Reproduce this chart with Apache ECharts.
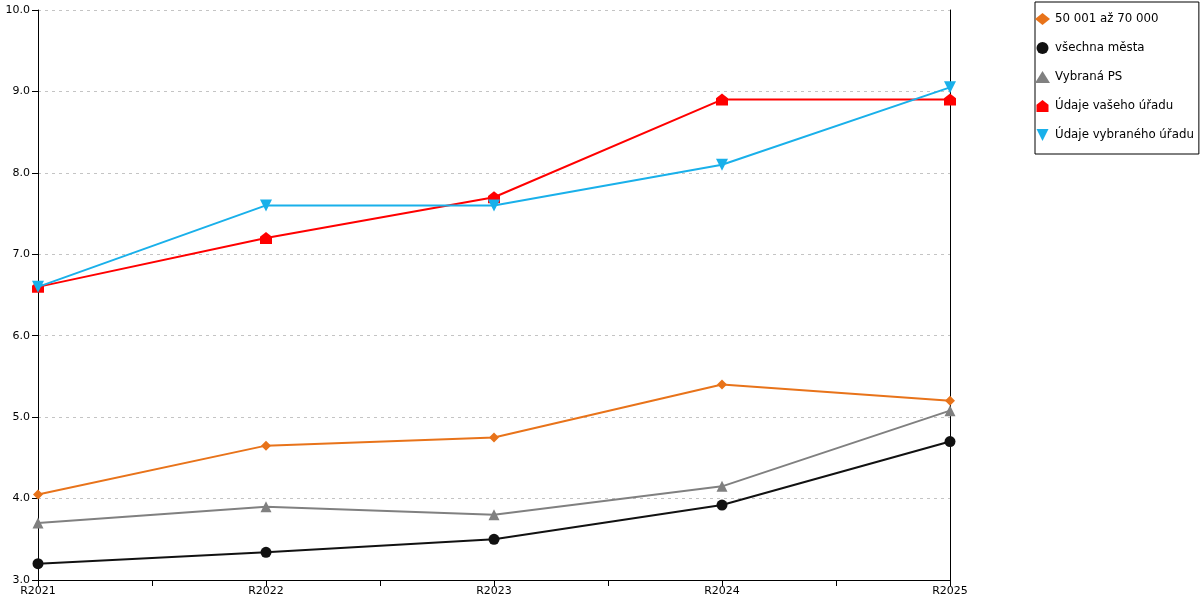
<!DOCTYPE html>
<html>
<head>
<meta charset="utf-8">
<script src="https://cdn.jsdelivr.net/npm/echarts@6/dist/echarts.min.js"></script>
<style>html,body{margin:0;padding:0;background:#fff;}#c{width:1200px;height:600px;}</style>
</head>
<body>
<div id="c"></div>
<script>
const categories = ['R2021', 'R2022', 'R2023', 'R2024', 'R2025'];
const seriesNames = ['50 001 až 70 000', 'všechna města', 'Vybraná PS', 'Údaje vašeho úřadu', 'Údaje vybraného úřadu'];
const vals5070 = [4.05, 4.65, 4.75, 5.4, 5.2];
const valsAll = [3.2, 3.34, 3.5, 3.92, 4.7];
const valsPS = [3.7, 3.9, 3.8, 4.15, 5.08];
const valsYour = [6.6, 7.2, 7.7, 8.9, 8.9];
const valsSel = [6.6, 7.6, 7.6, 8.1, 9.05];
const yTicks = [3, 4, 5, 6, 7, 8, 9, 10];

const house = 'path://M5,0 L10,4 L10,10 L0,10 L0,4 Z';
const styles = [
  {color: '#e8731a', symbol: 'diamond', size: 10},
  {color: '#111111', symbol: 'circle', size: 11},
  {color: '#808080', symbol: 'triangle', size: 11},
  {color: '#ff0000', symbol: house, size: 12},
  {color: '#19b0ea', symbol: 'path://M0,0 L10,0 L5,10 Z', size: 12}
];
const allVals = [vals5070, valsAll, valsPS, valsYour, valsSel];

const chart = echarts.init(document.getElementById('c'));
chart.setOption({
  animation: false,
  textStyle: {fontFamily: 'DejaVu Sans'},
  grid: {left: 38, right: 250, top: 10, bottom: 20},
  legend: {
    orient: 'vertical', left: 1035, top: 2,
    borderColor: '#000', borderWidth: 1,
    padding: [11, 5, 13, 0], itemGap: 17, itemWidth: 15, itemHeight: 12,
    textStyle: {fontSize: 11.8, color: '#000', fontFamily: 'DejaVu Sans'},
    data: seriesNames.map((n, i) => ({name: n, icon: styles[i].symbol}))
  },
  xAxis: {
    type: 'value', min: 0, max: categories.length - 1, interval: 0.5,
    axisLine: {lineStyle: {color: '#000', width: 1}},
    axisTick: {length: 6, lineStyle: {color: '#000'}},
    axisLabel: {color: '#000', fontSize: 11, margin: 6,
      formatter: v => Number.isInteger(v) ? categories[v] : ''},
    splitLine: {show: false}
  },
  yAxis: [{
    type: 'value', min: yTicks[0], max: yTicks[yTicks.length - 1], interval: 1,
    axisLine: {show: true, lineStyle: {color: '#000', width: 1}},
    axisTick: {show: true, length: 6, lineStyle: {color: '#000'}},
    axisLabel: {color: '#000', fontSize: 11, margin: 8, formatter: v => v.toFixed(1)},
    splitLine: {lineStyle: {color: '#c4c4c4', type: [3, 4], width: 1}}
  }, {
    type: 'value', min: yTicks[0], max: yTicks[yTicks.length - 1], position: 'right',
    axisLine: {show: true, lineStyle: {color: '#000', width: 1}},
    axisTick: {show: false}, axisLabel: {show: false}, splitLine: {show: false}
  }],
  series: seriesNames.map((n, i) => ({
    name: n, type: 'line', yAxisIndex: 0,
    data: allVals[i].map((v, j) => [j, v]),
    symbol: styles[i].symbol, symbolSize: styles[i].size,
    itemStyle: {color: styles[i].color},
    lineStyle: {color: styles[i].color, width: 2},
    z: 2 + i
  }))
});
</script>
</body>
</html>
